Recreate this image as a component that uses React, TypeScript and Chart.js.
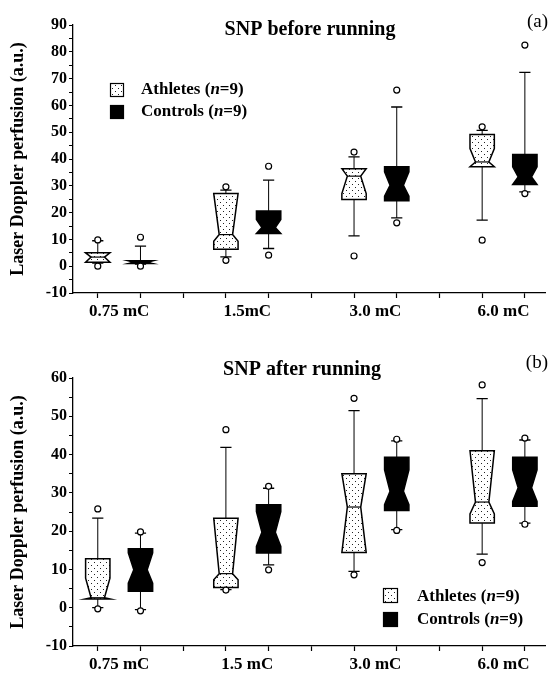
import React, { useEffect, useRef } from 'react';
import { Chart, registerables } from 'chart.js';

Chart.register(...registerables);

// ---------------- data ----------------
const beforeCategories = ['0.75 mC', '1.5mC', '3.0 mC', '6.0 mC'];
const afterCategories = ['0.75 mC', '1.5 mC', '3.0 mC', '6.0 mC'];
const athletePositions = [1, 4, 7, 10];
const controlPositions = [2, 5, 8, 11];
const labelPositions = [1.5, 4.5, 7.5, 10.5];
const axisTickPositions = [1, 2, 3, 4, 5, 6, 7, 8, 9, 10, 11];

// each box: [min, whiskerLow, q1, notchLow, median, notchHigh, q3, whiskerHigh, max]
const beforeAthletes = [
  [0.0, 1.2, 1.5, 1.5, 3.4, 5.0, 5.0, 9.5, 9.8],
  [2.2, 3.5, 6.3, 9.3, 11.8, 27.1, 27.1, 28.4, 29.6],
  [3.8, 11.3, 24.9, 27.1, 33.6, 36.4, 36.4, 40.8, 42.6],
  [9.7, 17.2, 37.1, 37.1, 38.9, 43.9, 49.1, 50.7, 52.0],
];
const beforeControls = [
  [0.0, 0.8, 1.0, 1.0, 1.5, 2.0, 2.0, 7.5, 10.8],
  [4.1, 6.6, 12.2, 12.2, 14.4, 17.4, 20.6, 32.1, 37.3],
  [16.2, 18.0, 24.4, 26.1, 30.2, 35.2, 37.1, 59.4, 65.7],
  [27.1, 27.7, 30.5, 30.5, 33.3, 37.1, 41.7, 72.3, 82.5],
];
const afterAthletes = [
  [-0.3, 0.0, 2.3, 2.3, 2.6, 7.7, 12.8, 23.4, 25.8],
  [4.6, 4.7, 5.3, 7.3, 8.9, 23.4, 23.4, 41.9, 46.5],
  [8.6, 9.5, 14.4, 14.4, 26.3, 35.0, 35.0, 51.5, 54.7],
  [11.8, 14.0, 22.1, 24.5, 27.6, 41.0, 41.0, 54.6, 58.2],
];
const afterControls = [
  [-0.8, -0.5, 4.3, 6.4, 9.9, 14.3, 15.4, 19.5, 19.8],
  [9.9, 11.2, 14.3, 16.0, 19.7, 25.1, 26.9, 31.2, 31.7],
  [20.2, 20.4, 25.4, 26.9, 30.4, 36.0, 39.3, 43.6, 44.0],
  [21.8, 22.1, 26.5, 27.8, 31.3, 36.0, 39.3, 43.8, 44.3],
];
const beforeYTicks = [-10, 0, 10, 20, 30, 40, 50, 60, 70, 80, 90];
const afterYTicks = [-10, 0, 10, 20, 30, 40, 50, 60];
const legendLabels = ['Athletes', 'Controls'];
const legendN = [9, 9];

// ---------------- styling ----------------
const SERIF = '"Liberation Serif", "Times New Roman", serif';
const W = 551;

function makePattern(): CanvasPattern | string {
  const c = document.createElement('canvas');
  c.width = 6;
  c.height = 6;
  const g = c.getContext('2d');
  if (!g) return '#fff';
  g.fillStyle = '#fff';
  g.fillRect(0, 0, 6, 6);
  g.fillStyle = '#222';
  g.fillRect(1, 1, 1, 1);
  g.fillRect(4, 4, 1, 1);
  const p = g.createPattern(c, 'repeat');
  return p || '#fff';
}

function drawRich(ctx: CanvasRenderingContext2D, x: number, y: number, name: string, n: number, size: number) {
  const parts = [
    { t: name + ' (', it: false },
    { t: 'n', it: true },
    { t: '=' + n + ')', it: false },
  ];
  ctx.textAlign = 'left';
  ctx.textBaseline = 'middle';
  ctx.fillStyle = '#000';
  let cx = x;
  for (const p of parts) {
    ctx.font = (p.it ? 'italic bold ' : 'bold ') + size + 'px ' + SERIF;
    ctx.fillText(p.t, cx, y);
    cx += ctx.measureText(p.t).width;
  }
}

type PanelCfg = {
  height: number;
  padTop: number;
  xAxisH: number;
  yMax: number;
  yTicks: number[];
  cats: string[];
  athletes: number[][];
  controls: number[][];
  title: string;
  titleX: number;
  titleY: number;
  tag: string;
  tagY: number;
  legendBoxX: number;
  legendBoxY: number[];
  legendBox: number;
  legendTextX: number;
  legendTextY: number[];
};

function buildChart(canvas: HTMLCanvasElement, cfg: PanelCfg) {
  const pattern = makePattern();
  const tickFont = { family: SERIF, size: 16, weight: 'bold' as const };
  const xFont = { family: SERIF, size: 17, weight: 'bold' as const };
  const yMinor: number[] = [];
  for (let v = -10; v <= cfg.yMax; v += 5) yMinor.push(v);

  const boxPlugin = {
    id: 'notchedBoxes',
    beforeDatasetsDraw(chart: any) {
      const ctx: CanvasRenderingContext2D = chart.ctx;
      const xs = chart.scales.x;
      const ys = chart.scales.y;
      const unit = xs.getPixelForValue(1) - xs.getPixelForValue(0);
      const hw = unit * 0.285;
      const inset = hw * 0.45;
      const capHW = hw * 0.46;
      const groups = [
        { pos: athletePositions, data: cfg.athletes, fill: pattern as any },
        { pos: controlPositions, data: cfg.controls, fill: '#000' },
      ];
      ctx.save();
      for (const g of groups) {
        g.pos.forEach((p, i) => {
          const d = g.data[i];
          const [, wLo, q1, nLo, med, nHi, q3, wHi] = d;
          const x = xs.getPixelForValue(p);
          const Y = (v: number) => ys.getPixelForValue(v);
          ctx.strokeStyle = '#000';
          ctx.lineWidth = 1;
          ctx.beginPath();
          ctx.moveTo(x, Y(q3));
          ctx.lineTo(x, Y(wHi));
          ctx.moveTo(x, Y(q1));
          ctx.lineTo(x, Y(wLo));
          ctx.stroke();
          ctx.lineWidth = 1.3;
          ctx.beginPath();
          ctx.moveTo(x - capHW, Y(wHi));
          ctx.lineTo(x + capHW, Y(wHi));
          ctx.moveTo(x - capHW, Y(wLo));
          ctx.lineTo(x + capHW, Y(wLo));
          ctx.stroke();
          const hiC = Math.min(nHi, q3);
          const loC = Math.max(nLo, q1);
          ctx.beginPath();
          ctx.moveTo(x - hw, Y(q3));
          ctx.lineTo(x - hw, Y(hiC));
          ctx.lineTo(x - hw + inset, Y(med));
          ctx.lineTo(x - hw, Y(loC));
          ctx.lineTo(x - hw, Y(q1));
          ctx.lineTo(x + hw, Y(q1));
          ctx.lineTo(x + hw, Y(loC));
          ctx.lineTo(x + hw - inset, Y(med));
          ctx.lineTo(x + hw, Y(hiC));
          ctx.lineTo(x + hw, Y(q3));
          ctx.closePath();
          ctx.fillStyle = g.fill;
          ctx.fill();
          ctx.lineWidth = 1.5;
          ctx.lineJoin = 'miter';
          ctx.stroke();
          ctx.beginPath();
          ctx.lineWidth = 1.2;
          ctx.moveTo(x - hw + inset, Y(med));
          ctx.lineTo(x + hw - inset, Y(med));
          ctx.stroke();
        });
      }
      ctx.restore();
    },
    afterDraw(chart: any) {
      const ctx: CanvasRenderingContext2D = chart.ctx;
      ctx.save();
      ctx.fillStyle = '#000';
      ctx.textAlign = 'center';
      ctx.textBaseline = 'middle';
      ctx.font = 'bold 20px ' + SERIF;
      ctx.fillText(cfg.title, cfg.titleX, cfg.titleY);
      ctx.textAlign = 'right';
      ctx.font = '19px ' + SERIF;
      ctx.fillText(cfg.tag, 548, cfg.tagY);
      const fills = [pattern as any, '#000'];
      for (let k = 0; k < 2; k++) {
        ctx.fillStyle = fills[k];
        ctx.fillRect(cfg.legendBoxX, cfg.legendBoxY[k], cfg.legendBox, cfg.legendBox);
        ctx.strokeStyle = '#000';
        ctx.lineWidth = 1.2;
        ctx.strokeRect(cfg.legendBoxX + 0.5, cfg.legendBoxY[k] + 0.5, cfg.legendBox - 1, cfg.legendBox - 1);
        drawRich(ctx, cfg.legendTextX, cfg.legendTextY[k], legendLabels[k], legendN[k], 17);
      }
      ctx.restore();
    },
  };

  const pointsOf = (pos: number[], data: number[][]) => {
    const pts: { x: number; y: number }[] = [];
    pos.forEach((p, i) => {
      pts.push({ x: p, y: data[i][0] });
      pts.push({ x: p, y: data[i][8] });
    });
    return pts;
  };
  const ptStyle = {
    pointRadius: 3,
    pointBorderWidth: 1.2,
    pointBackgroundColor: '#fff',
    pointBorderColor: '#000',
    showLine: false,
  };

  const xTickValues = [...axisTickPositions, ...labelPositions].sort((a, b) => a - b);

  return new Chart(canvas, {
    type: 'scatter',
    data: {
      datasets: [
        { label: legendLabels[0], data: pointsOf(athletePositions, cfg.athletes), ...ptStyle },
        { label: legendLabels[1], data: pointsOf(controlPositions, cfg.controls), ...ptStyle },
      ],
    },
    options: {
      responsive: false,
      animation: false,
      devicePixelRatio: 1,
      layout: { padding: { top: cfg.padTop, right: 3, left: 0, bottom: 0 } },
      plugins: { legend: { display: false }, tooltip: { enabled: false }, title: { display: false } },
      scales: {
        x: {
          type: 'linear',
          min: 0.42,
          max: 11.49,
          afterBuildTicks: (s: any) => {
            s.ticks = xTickValues.map((v) => ({ value: v }));
          },
          afterFit: (s: any) => {
            s.height = cfg.xAxisH;
          },
          ticks: {
            autoSkip: false,
            maxRotation: 0,
            minRotation: 0,
            padding: 3,
            color: '#000',
            font: xFont,
            callback: (v: any) => {
              const i = labelPositions.indexOf(Number(v));
              return i >= 0 ? cfg.cats[i] : '';
            },
          },
          grid: {
            display: true,
            drawOnChartArea: false,
            drawTicks: true,
            tickLength: 5,
            tickWidth: 1.2,
            tickColor: (c: any) =>
              c.tick && Number.isInteger(c.tick.value) ? '#000' : 'rgba(0,0,0,0)',
          },
          border: { display: true, color: '#000', width: 1.3 },
        },
        y: {
          type: 'linear',
          min: -10,
          max: cfg.yMax,
          afterBuildTicks: (s: any) => {
            s.ticks = yMinor.map((v) => ({ value: v }));
          },
          afterFit: (s: any) => {
            s.width = 73;
          },
          ticks: {
            autoSkip: false,
            padding: 2,
            color: '#000',
            font: tickFont,
            callback: (v: any) => (cfg.yTicks.includes(Number(v)) ? String(v) : ''),
          },
          grid: {
            display: true,
            drawOnChartArea: false,
            drawTicks: true,
            tickLength: 4,
            tickWidth: 1,
            tickColor: '#000',
          },
          border: { display: true, color: '#000', width: 1.3 },
          title: {
            display: true,
            text: 'Laser Doppler perfusion (a.u.)',
            color: '#000',
            font: { family: SERIF, size: 18, weight: 'bold' },
            padding: { top: 8, bottom: 0 },
          },
        },
      },
    } as any,
    plugins: [boxPlugin],
  });
}

const topCfg: PanelCfg = {
  height: 336,
  padTop: 25,
  xAxisH: 43,
  yMax: 90,
  yTicks: beforeYTicks,
  cats: beforeCategories,
  athletes: beforeAthletes,
  controls: beforeControls,
  title: 'SNP before running',
  titleX: 310,
  titleY: 30,
  tag: '(a)',
  tagY: 22,
  legendBoxX: 110,
  legendBoxY: [83, 105],
  legendBox: 14,
  legendTextX: 141,
  legendTextY: [90, 112],
};

const bottomCfg: PanelCfg = {
  height: 337,
  padTop: 42,
  xAxisH: 27,
  yMax: 60,
  yTicks: afterYTicks,
  cats: afterCategories,
  athletes: afterAthletes,
  controls: afterControls,
  title: 'SNP after running',
  titleX: 302,
  titleY: 34,
  tag: '(b)',
  tagY: 27,
  legendBoxX: 383,
  legendBoxY: [252, 276],
  legendBox: 15,
  legendTextX: 417,
  legendTextY: [261, 284],
};

function Panel({ cfg }: { cfg: PanelCfg }) {
  const ref = useRef<HTMLCanvasElement | null>(null);
  useEffect(() => {
    if (!ref.current) return;
    const chart = buildChart(ref.current, cfg);
    return () => chart.destroy();
  }, [cfg]);
  return (
    <canvas
      ref={ref}
      width={W}
      height={cfg.height}
      style={{ display: 'block', width: W, height: cfg.height }}
    />
  );
}

export default function App() {
  return (
    <div style={{ position: 'absolute', left: 0, top: 0, width: W, height: 673, background: '#fff' }}>
      <Panel cfg={topCfg} />
      <Panel cfg={bottomCfg} />
    </div>
  );
}
